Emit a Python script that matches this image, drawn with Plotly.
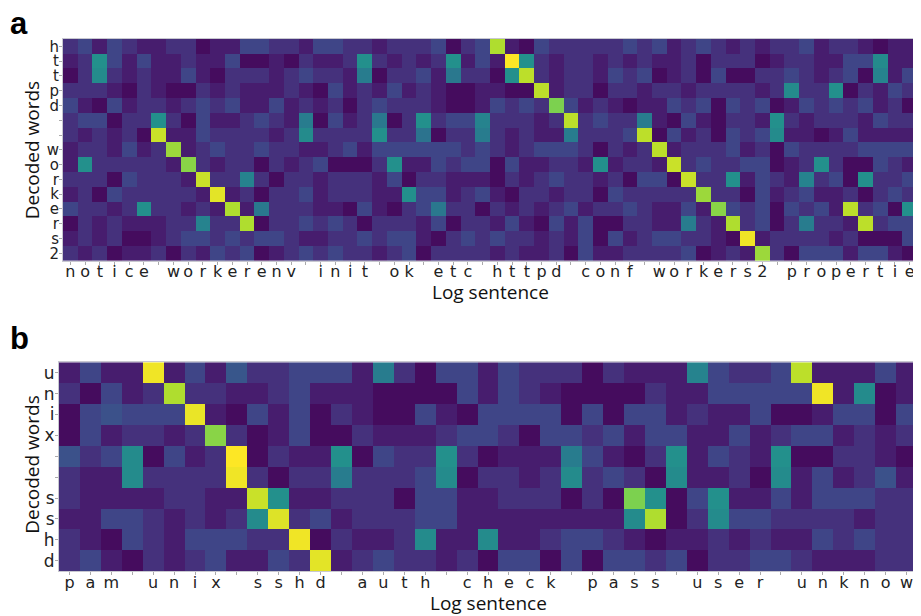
import plotly.graph_objects as go

# ---------------- Panel a data ----------------
XA_LABELS = list("notice workerenv init ok etc httpd conf workers2 propertie")
YA_LABELS = ["h", "t", "t", "p", "d", "", "", "w", "o", "r", "k", "e", "r", "s", "2"]

ZA = [
    [14,21,8,21,14,8,8,14,14,3,8,8,21,21,14,14,8,21,21,14,
     14,8,14,14,14,21,3,14,21,88,8,3,21,14,14,14,14,14,21,14,
     21,8,14,21,14,8,14,8,14,14,21,8,14,14,8,3,8,8],
    [8,14,50,21,8,21,8,8,14,8,8,21,3,3,8,3,14,8,8,14,
     50,14,8,14,8,14,50,8,21,8,100,50,14,8,14,14,8,14,8,14,
     8,8,14,3,14,14,14,3,8,14,14,8,8,21,21,48,8,8],
    [3,14,48,14,8,14,8,8,21,8,3,14,14,14,8,14,21,14,14,8,
     42,3,14,14,21,8,40,14,14,3,50,90,14,8,14,14,8,21,14,21,
     3,8,14,3,21,3,3,14,14,21,14,8,14,21,3,45,8,21],
    [14,14,14,8,3,14,8,3,3,14,8,14,8,8,8,14,8,3,21,8,
     14,8,21,8,14,8,3,3,8,8,3,3,90,8,14,14,3,14,14,8,
     14,14,8,14,14,14,14,8,14,48,14,14,50,3,14,8,21,14],
    [21,8,3,21,8,14,14,8,14,21,14,21,8,8,21,8,14,8,14,3,
     14,21,14,14,14,8,3,3,8,21,14,21,14,80,21,8,14,8,3,8,
     8,21,14,21,3,21,14,21,3,8,21,14,21,14,21,8,14,3],
    [14,21,21,3,14,14,50,14,3,21,8,8,14,21,14,8,42,3,21,8,
     14,40,3,14,50,14,21,21,45,14,14,14,8,14,90,14,21,14,14,42,
     8,3,21,8,3,14,14,8,50,14,8,14,14,14,8,21,14,14],
    [14,8,14,8,14,3,92,8,8,21,14,14,14,14,8,14,48,14,14,14,
     14,50,14,14,38,3,14,14,42,14,8,14,8,8,42,14,14,14,21,90,
     3,21,8,14,3,21,14,21,48,8,8,3,8,21,8,8,8,8],
    [8,14,14,8,21,8,14,85,8,14,21,14,14,21,14,14,8,8,14,21,
     8,21,21,21,21,21,21,14,21,14,8,14,21,21,21,14,3,14,8,14,
     90,8,14,14,14,21,8,14,3,21,14,14,14,14,21,21,21,21],
    [8,50,14,14,14,14,14,8,82,14,8,14,14,3,14,8,14,21,3,3,
     3,14,50,8,8,21,14,21,21,3,21,8,8,14,14,8,50,8,14,14,
     8,92,14,21,14,14,21,21,3,8,14,50,14,3,3,21,14,8],
    [14,14,14,3,21,14,14,14,8,92,14,14,45,14,3,14,14,8,14,14,
     14,8,21,3,14,14,8,8,8,3,14,8,14,21,14,14,8,14,3,21,
     21,3,92,14,14,50,8,21,14,8,45,14,21,3,50,14,14,21],
    [8,14,3,21,14,14,14,14,14,8,96,8,14,3,14,14,21,8,14,14,
     14,8,8,50,21,21,8,14,21,8,3,14,14,8,14,14,3,21,14,14,
     14,14,14,85,14,14,3,21,8,14,21,8,8,14,3,14,21,14],
    [21,14,14,8,14,50,14,14,8,14,8,88,8,40,14,14,14,8,8,3,
     21,8,3,14,21,40,14,14,3,14,8,14,8,14,21,8,14,14,21,14,
     8,8,21,8,82,21,14,21,3,21,14,21,8,90,14,21,3,50],
    [3,14,8,14,8,8,8,14,14,45,14,14,88,3,14,14,21,14,21,14,
     3,14,14,14,8,21,3,14,14,8,21,8,3,21,8,21,3,3,14,14,
     8,8,42,14,8,88,14,21,3,14,42,14,14,8,90,14,21,21],
    [8,14,8,14,3,3,8,14,21,21,14,21,14,21,21,14,8,8,14,14,
     21,14,21,21,8,3,14,21,14,21,14,14,8,14,8,21,3,21,8,14,
     21,21,14,14,8,3,98,8,14,14,14,14,8,14,3,3,3,21],
    [14,8,14,3,8,8,14,3,14,8,21,14,21,3,8,14,21,14,21,14,
     14,8,14,21,3,14,14,14,14,8,14,8,8,14,3,21,8,8,14,14,
     14,14,21,3,8,14,8,85,14,3,21,21,21,8,21,21,8,3],
]

# ---------------- Panel b data ----------------
XB_LABELS = list("pam unix sshd auth check pass user unknow")
YB_LABELS = ["u", "n", "i", "x", "", "", "s", "s", "h", "d"]

ZB = [
    [8,21,8,8,98,8,21,8,27,14,14,21,21,21,
     8,42,14,3,21,21,8,21,14,14,14,3,14,8,
     8,8,45,21,14,14,21,90,8,8,8,21,8],
    [14,3,21,8,14,88,14,14,8,8,14,21,8,8,
     8,3,3,3,3,21,8,21,14,8,3,3,3,3,
     14,8,8,21,21,21,21,21,98,8,48,3,8],
    [3,21,25,21,21,21,97,8,3,21,8,21,3,14,
     8,3,3,21,8,3,21,21,21,21,3,21,3,21,
     21,8,14,8,8,21,3,3,8,21,21,3,21],
    [3,21,8,14,14,8,14,82,14,3,8,21,3,3,
     14,8,8,8,14,21,21,14,3,21,21,14,21,8,
     21,21,8,8,21,8,14,21,21,8,14,8,14],
    [25,14,21,48,3,21,8,14,100,3,14,8,8,50,
     3,21,14,14,50,14,3,8,8,8,42,21,8,3,
     14,50,8,21,14,8,50,3,3,14,14,8,3],
    [14,8,8,48,14,14,14,14,98,14,3,14,14,42,
     14,14,14,21,48,3,14,14,8,14,48,14,21,14,
     3,48,8,8,14,3,48,8,21,8,14,25,8],
    [14,8,8,8,8,14,14,8,8,92,50,8,8,14,
     14,14,3,21,21,8,8,14,14,14,3,14,3,80,
     50,3,21,50,8,8,21,8,21,21,21,14,14],
    [8,8,21,21,14,8,14,8,14,48,95,14,21,8,
     14,14,14,21,21,8,8,8,8,8,8,8,8,48,
     88,3,14,48,21,21,14,14,14,14,8,14,14],
    [14,8,3,21,14,8,21,21,21,14,14,98,3,14,
     8,8,14,48,8,8,48,8,8,14,21,21,14,8,
     3,8,8,14,8,14,8,8,21,14,21,14,14],
    [14,21,8,3,14,8,14,21,8,8,21,14,96,8,
     14,21,14,14,8,14,3,21,21,3,21,3,21,21,
     14,21,3,14,14,21,21,14,8,8,8,14,14],
]

# The page body adds an 8px margin, so the figure is sized to fit the window
PAGE_OFF = 8
W, H = 921 - PAGE_OFF, 616 - PAGE_OFF


def px_x(v):
    return (v - PAGE_OFF) / W


def px_y(v):
    return 1 - (v - PAGE_OFF) / H


fig = go.Figure()

fig.add_trace(go.Heatmap(
    z=ZA, x=list(range(len(XA_LABELS))), y=list(range(len(YA_LABELS))),
    colorscale="Viridis", zmin=0, zmax=100, showscale=False,
    xaxis="x", yaxis="y", hoverinfo="skip"))

fig.add_trace(go.Heatmap(
    z=ZB, x=list(range(len(XB_LABELS))), y=list(range(len(YB_LABELS))),
    colorscale="Viridis", zmin=0, zmax=100, showscale=False,
    xaxis="x2", yaxis="y2", hoverinfo="skip"))


def axis_style(size, standoff):
    return dict(showgrid=False, zeroline=False, showline=True, mirror=True,
                linecolor="#c8c8d0", linewidth=1, ticks="outside",
                ticklen=3, tickcolor="#aaaaaa", tickwidth=1,
                ticklabelstandoff=standoff,
                tickfont=dict(family="DejaVu Sans", size=size, color="#222222"))


fig.update_layout(
    width=W, height=H,
    margin=dict(l=0, r=0, t=0, b=0),
    paper_bgcolor="white", plot_bgcolor="white",
    showlegend=False,
    xaxis=dict(domain=[px_x(63), px_x(917)], anchor="y",
               tickmode="array", tickvals=list(range(len(XA_LABELS))),
               ticktext=XA_LABELS, range=[-0.5, len(XA_LABELS) - 0.5],
               tickangle=0, **axis_style(16, -7)),
    yaxis=dict(domain=[px_y(261), px_y(38)], anchor="x",
               tickmode="array", tickvals=list(range(len(YA_LABELS))),
               ticktext=YA_LABELS, range=[len(YA_LABELS) - 0.5, -0.5],
               **axis_style(15, -3)),
    xaxis2=dict(domain=[px_x(59), px_x(917)], anchor="y2",
                tickmode="array", tickvals=list(range(len(XB_LABELS))),
                ticktext=XB_LABELS, range=[-0.5, len(XB_LABELS) - 0.5],
                tickangle=0, **axis_style(16, -6)),
    yaxis2=dict(domain=[px_y(573), px_y(363)], anchor="x2",
                tickmode="array", tickvals=list(range(len(YB_LABELS))),
                ticktext=YB_LABELS, range=[len(YB_LABELS) - 0.5, -0.5],
                **axis_style(17, -3)),
)

title_font = dict(family="Open Sans", size=19, color="#111111")
letter_font = dict(family="Liberation Sans", size=31, color="#000000")

annotations = [
    dict(text="<b>a</b>", x=px_x(9), y=px_y(23), xanchor="left", yanchor="middle",
         font=letter_font, borderpad=0),
    dict(text="<b>b</b>", x=px_x(9), y=px_y(339), xanchor="left", yanchor="middle",
         font=letter_font, borderpad=0),
    dict(text="Log sentence", x=px_x(490), y=px_y(292), xanchor="center",
         yanchor="middle", font=title_font, borderpad=0),
    dict(text="Log sentence", x=px_x(488), y=px_y(605), xanchor="center",
         yanchor="middle", font=title_font, borderpad=0),
    dict(text="Decoded words", x=px_x(32), y=px_y(150), xanchor="center",
         yanchor="middle", textangle=-90, font=title_font),
    dict(text="Decoded words", x=px_x(32), y=px_y(466), xanchor="center",
         yanchor="middle", textangle=-90, font=title_font),
]
for a in annotations:
    a.update(xref="paper", yref="paper", showarrow=False)
fig.update_layout(annotations=annotations)

fig.write_html("out.html")
